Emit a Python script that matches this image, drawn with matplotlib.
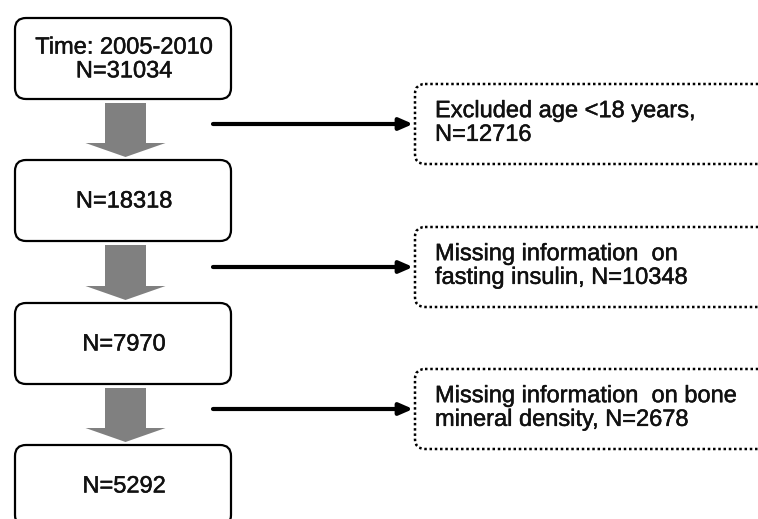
import matplotlib
matplotlib.use("Agg")
import matplotlib.pyplot as plt
from matplotlib.patches import FancyBboxPatch, FancyArrow
import matplotlib.patheffects as pe

# Content
main_labels = ["Time: 2005-2010\nN=31034", "N=18318", "N=7970", "N=5292"]
excl_labels = ["Excluded age <18 years,\nN=12716",
               "Missing information  on\nfasting insulin, N=10348",
               "Missing information  on bone\nmineral density, N=2678"]

W, H = 758, 519
fig = plt.figure(figsize=(W / 100, H / 100), dpi=100)
ax = fig.add_axes([0, 0, 1, 1])
ax.set_xlim(0, W)
ax.set_ylim(H, 0)
ax.axis("off")

font = ["Liberation Sans", "DejaVu Sans"]
effects = [pe.withStroke(linewidth=0.35, foreground="#111111")]

# main boxes
bx0, bx1 = 15, 231
bh = 81
tops = [18, 160, 303, 445]
for i, (lab, top) in enumerate(zip(main_labels, tops)):
    p = FancyBboxPatch((bx0, top), bx1 - bx0, bh,
                       boxstyle="round,pad=0,rounding_size=11",
                       fc="white", ec="black", lw=1.6, clip_on=True)
    ax.add_patch(p)
    ax.text((bx0 + bx1) / 2 + 1, top + bh / 2 + 1, lab, ha="center", va="center",
            fontsize=17, family=font, linespacing=1.1, color="#111111",
            path_effects=effects)

# gray block arrows between boxes
cx = 125.5
for i in range(3):
    y0 = tops[i] + bh + 4
    y_tip = tops[i + 1] - 3
    ax.add_patch(FancyArrow(cx, y0, 0, y_tip - y0, width=41, head_width=80,
                            head_length=14, length_includes_head=True,
                            fc="#808080", ec="none"))

# exclusion arrows and dotted boxes
arrow_y = [124, 267, 409]
for lab, ay in zip(excl_labels, arrow_y):
    ax.annotate("", xy=(413, ay), xytext=(213, ay),
                arrowprops=dict(arrowstyle="-|>,head_length=0.8,head_width=0.35",
                                lw=3, color="black", shrinkA=0, shrinkB=0))
    p = FancyBboxPatch((415, ay - 40), 400, 80,
                       boxstyle="round,pad=0,rounding_size=10",
                       fc="white", ec="black", lw=1.8, ls=(0, (1, 1.1)))
    ax.add_patch(p)
    ax.text(435, ay - 1, lab, ha="left", va="center", fontsize=17,
            family=font, linespacing=1.1, color="#111111",
            path_effects=effects)

fig.savefig("out.png", dpi=100)
